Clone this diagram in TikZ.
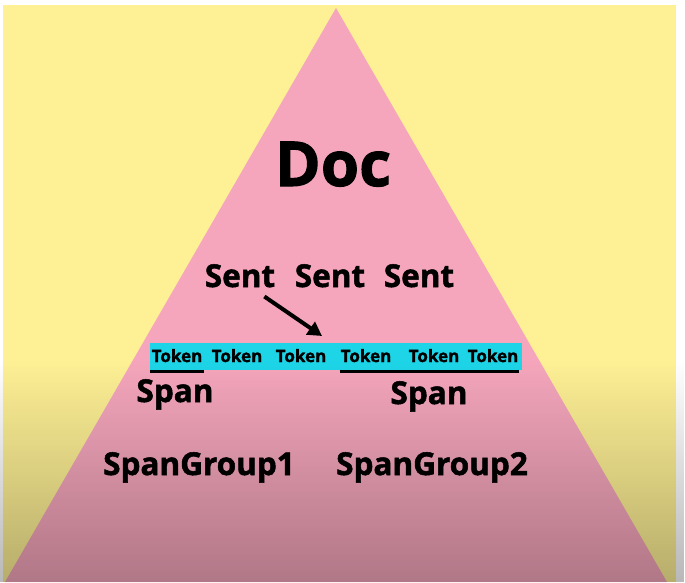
\documentclass[tikz,border=0pt]{standalone}
\usepackage{fontspec}
\setmainfont{Open Sans}[BoldFeatures={FakeBold=1.6}]
\usepackage{tikz}
\usetikzlibrary{arrows.meta, positioning, calc, fadings}
\definecolor{slideyellow}{HTML}{FEF095}
\definecolor{pyramidpink}{HTML}{F5A6BC}
\definecolor{tokencyan}{HTML}{1ED5E8}

\begin{document}
\begin{tikzpicture}[
    x=1pt,
    y=-1pt,
    >=Stealth,
    lbl/.style={font=\bfseries\fontsize{31.5}{31.5}\selectfont, inner sep=0pt, anchor=base},
    toklbl/.style={font=\bfseries\fontsize{17}{17}\selectfont, inner sep=0pt, anchor=base},
    uline/.style={line width=3pt}
]
% Frame
\useasboundingbox (0,0) rectangle (685,582);
\fill[white] (0,0) rectangle (685,582);
\fill[slideyellow] (3,5) rectangle (676,582);
% Pyramid
\fill[pyramidpink] (336,8) -- (667,582) -- (5,582) -- cycle;
% Doc
\node[lbl, font=\bfseries\fontsize{62}{62}\selectfont] (doc) at (333,186) {Doc};
% Sentences
\foreach \x [count=\i] in {240,330,419} {
    \node[lbl] (sent\i) at (\x,287) {Sent};
}
% Token bar
\node[fill=tokencyan, minimum width=372pt, minimum height=27pt, inner sep=0pt] (bar) at (336,356) {};
\foreach \x [count=\i] in {177,237,301,366,434,493} {
    \node[toklbl] (tok\i) at (\x,362) {Token};
}
\coordinate (arrtip) at (322,336);
\draw[line width=4pt, -{Triangle[length=14pt, width=15pt]}] ($(sent1.south east)+(-11,9)$) -- (arrtip);
% Spans
\draw[uline] ($(bar.south west)+(0,2)$) -- ($(tok1.east |- bar.south)+(1,2)$);
\draw[uline] ($(tok4.west |- bar.south)+(-1,2)$) -- ($(bar.south east)+(-3,2)$);
\node[lbl] (span1) at (175,402) {Span};
\node[lbl] (span2) at (429,404) {Span};
% Span groups
\node[lbl] (group1) at (199,475) {SpanGroup1};
\node[lbl] (group2) at (432,475) {SpanGroup2};
% darker bottom
\fill[black, opacity=0.28, path fading=north] (0,360) rectangle (685,582);
\end{tikzpicture}
\end{document}
